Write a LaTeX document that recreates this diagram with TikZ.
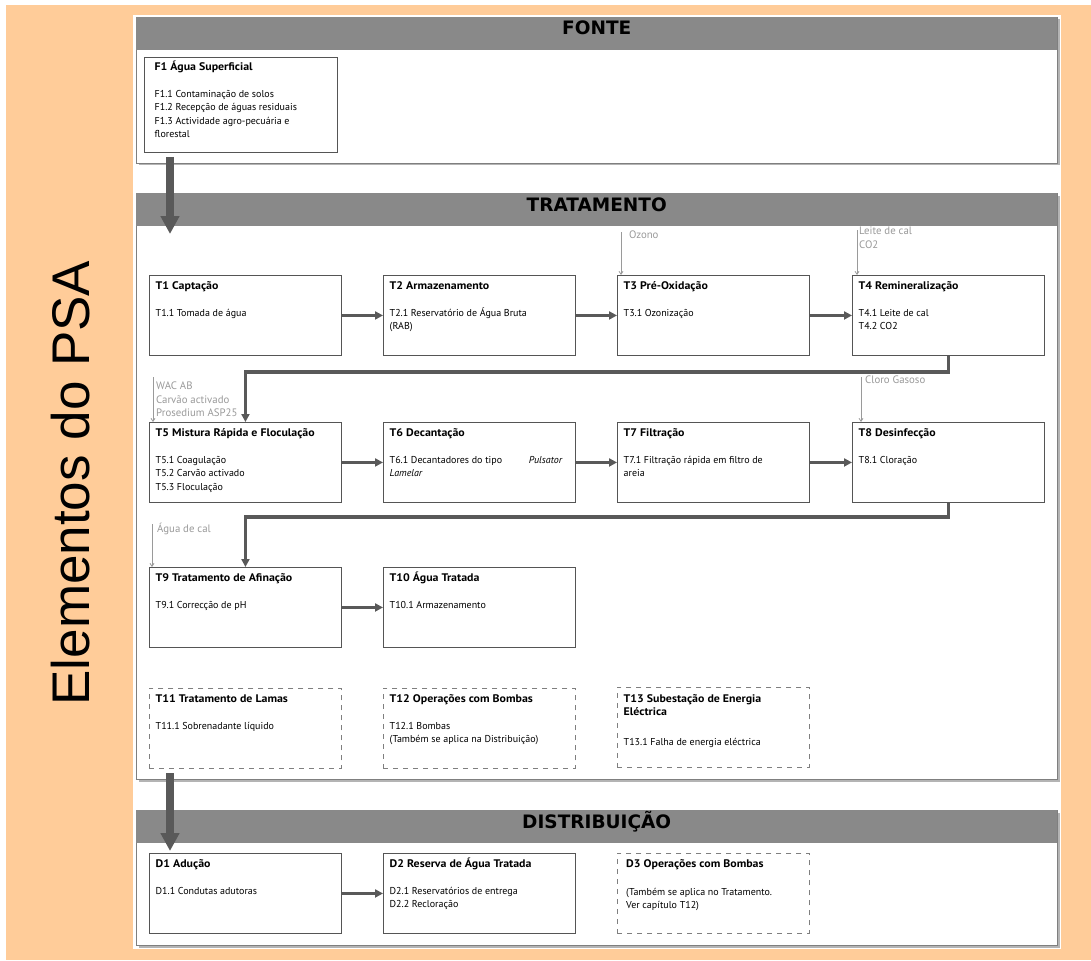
\documentclass[tikz,border=0pt]{standalone}
\usepackage{fontspec}
\setmainfont{PT Sans}
\newfontfamily\psafont{Liberation Sans}
\newfontfamily\hdrfont{DejaVu Sans}
\usetikzlibrary{arrows.meta,calc,shadows}
\definecolor{orangebg}{HTML}{FFCC99}
\definecolor{hdrgray}{HTML}{898989}
\definecolor{framegray}{HTML}{7F7F7F}
\definecolor{shadowgray}{HTML}{B4B4B4}
\definecolor{boxgray}{HTML}{555555}
\definecolor{arrgray}{HTML}{595959}
\definecolor{feedgray}{HTML}{9A9A9A}
\tikzset{
  secbox/.style={draw=framegray, line width=1, fill=white, anchor=north west, inner sep=0, minimum width=921,
    drop shadow={shadow xshift=2pt, shadow yshift=-2pt, fill=shadowgray, opacity=1}},
  sechead/.style={fill=hdrgray, anchor=north west, inner sep=0, minimum width=921, minimum height=33},
  sectext/.style={anchor=base, font=\hdrfont\bfseries\fontsize{18.5}{20}\selectfont, inner sep=0},
  pbox/.style={draw=boxgray, line width=0.9, fill=white, anchor=north west, inner sep=0, minimum width=192, minimum height=80},
  dbox/.style={draw=framegray, line width=0.8, dash pattern=on 5pt off 5pt, anchor=north west, inner sep=0, minimum width=192, minimum height=80},
  ptext/.style={anchor=north west, align=left, inner sep=0, font=\fontsize{10}{13.5}\selectfont},
  flow/.style={draw=arrgray, line width=3.5, -{Triangle[length=8pt,width=8pt]}},
  bigflow/.style={draw=arrgray, line width=8.5, -{Triangle[length=18pt,width=18pt]}},
  feed/.style={draw=feedgray, line width=0.8, -{Straight Barb[length=3pt,width=4pt]}},
  feedtext/.style={anchor=north west, align=left, inner sep=0, text=feedgray, font=\fontsize{10.8}{13.5}\selectfont},
}
\newcommand\ttl[1]{\scalebox{1.08}[1]{\fontsize{11}{13.5}\selectfont\bfseries #1}}
\newcommand\procnode[6]{%
  \node[#4] (#1) at (#2,#3) {};
  \node[ptext] (#1t) at ($(#1.north west)+(6.5,4.5)$) {\strut\ttl{#5}\\[13.5pt]#6};
}
\begin{document}
\begin{tikzpicture}[x=1pt,y=-1pt]
\useasboundingbox (0,0) rectangle (1091,960);
\fill[orangebg] (6,5) rectangle (1091,960);
\fill[white] (133,15) rectangle (1061,949);
\node[rotate=90, font=\psafont\fontsize{53}{60}\selectfont, inner sep=0] (psa) at (71,483) {Elementos do PSA};

% FONTE
\node[secbox, minimum height=146] (fonte) at (136,17) {};
\node[sechead] (fonteh) at (fonte.north west) {};
\node[sectext] (fontet) at ($(fonteh.north)+(0,18)$) {FONTE};
\node[pbox, minimum width=193, minimum height=95] (F1) at (144,57) {};
\node[ptext] (F1t) at ($(F1.north west)+(10.5,3.5)$) {\strut\ttl{F1 Água Superficial}\\[13.5pt]F1.1 Contaminação de solos\\F1.2 Recepção de águas residuais\\F1.3 Actividade agro-pecuária e\\florestal};

% TRATAMENTO
\node[secbox, minimum height=586] (trat) at (136,193) {};
\node[sechead] (trath) at (trat.north west) {};
\node[sectext] (tratt) at ($(trath.north)+(0,18)$) {TRATAMENTO};

\procnode{T1}{149}{275}{pbox}{T1 Captação}{T1.1 Tomada de água}
\procnode{T2}{383}{275}{pbox}{T2 Armazenamento}{T2.1 Reservatório de Água Bruta\\(RAB)}
\procnode{T3}{617}{275}{pbox}{T3 Pré-Oxidação}{T3.1 Ozonização}
\procnode{T4}{852}{275}{pbox}{T4 Remineralização}{T4.1 Leite de cal\\T4.2 CO2}

\procnode{T5}{149}{422}{pbox}{T5 Mistura Rápida e Floculação}{T5.1 Coagulação\\T5.2 Carvão activado\\T5.3 Floculação}
\procnode{T6}{383}{422}{pbox}{T6 Decantação}{\makebox[173pt][l]{T6.1 Decantadores do tipo\hfill\textit{Pulsator}}\\\textit{Lamelar}}
\procnode{T7}{617}{422}{pbox}{T7 Filtração}{T7.1 Filtração rápida em filtro de\\areia}
\procnode{T8}{852}{422}{pbox}{T8 Desinfecção}{T8.1 Cloração}

\procnode{T9}{149}{567}{pbox}{T9 Tratamento de Afinação}{T9.1 Correcção de pH}
\procnode{T10}{383}{567}{pbox}{T10 Água Tratada}{T10.1 Armazenamento}

\procnode{T11}{149}{688}{dbox}{T11 Tratamento de Lamas}{T11.1 Sobrenadante líquido}
\procnode{T12}{383}{688}{dbox}{T12 Operações com Bombas}{T12.1 Bombas\\(Também se aplica na Distribuição)}
\node[dbox] (T13) at (617,687) {};
\node[ptext] (T13t) at ($(T13.north west)+(6.5,5.5)$) {\strut\ttl{T13 Subestação de Energia}\\\ttl{Eléctrica}\\[16pt]T13.1 Falha de energia eléctrica};

% DISTRIBUICAO
\node[secbox, minimum height=135] (dist) at (136,810) {};
\node[sechead] (disth) at (dist.north west) {};
\node[sectext] (distt) at ($(disth.north)+(0,18)$) {DISTRIBUIÇÃO};
\procnode{D1}{149}{853}{pbox}{D1 Adução}{D1.1 Condutas adutoras}
\procnode{D2}{383}{853}{pbox}{D2 Reserva de Água Tratada}{D2.1 Reservatórios de entrega\\D2.2 Recloração}
\node[dbox] (D3) at (617,853) {};
\node[ptext] (D3t) at ($(D3.north west)+(9,4.5)$) {\strut\ttl{D3 Operações com Bombas}\\[14.5pt](Também se aplica no Tratamento.\\Ver capítulo T12)};

% flows
\draw[flow] (T1.east) -- (T2.west);
\draw[flow] (T2.east) -- (T3.west);
\draw[flow] (T3.east) -- (T4.west);
\draw[flow] (T4.south) -- ++(0,16) -| (T5.north);
\draw[flow] (T5.east) -- (T6.west);
\draw[flow] (T6.east) -- (T7.west);
\draw[flow] (T7.east) -- (T8.west);
\draw[flow] (T8.south) -- ++(0,14) -| (T9.north);
\draw[flow] (T9.east) -- (T10.west);
\draw[flow] (D1.east) -- (D2.west);

% big arrows
\coordinate (b1s) at (170,157);
\coordinate (b1e) at (170,234);
\coordinate (b2s) at (170,773);
\coordinate (b2e) at (170,851);
\draw[bigflow] (b1s) -- (b1e);
\draw[bigflow] (b2s) -- (b2e);

% feeds
\coordinate (fo) at (621,232);
\draw[feed] (fo) -- (fo |- T3.north);
\node[feedtext] (fot) at (629,231) {Ozono};
\coordinate (fl) at (857,230);
\draw[feed] (fl) -- (fl |- T4.north);
\node[feedtext] (flt) at (859,227) {Leite de cal\\CO2};
\coordinate (fc) at (861,377);
\draw[feed] (fc) -- (fc |- T8.north);
\node[feedtext] (fct) at (865,376) {Cloro Gasoso};
\coordinate (fw) at (153,377);
\draw[feed] (fw) -- (fw |- T5.north);
\node[feedtext] (fwt) at (156,382) {WAC AB\\Carvão activado\\Prosedium ASP25};
\coordinate (fa) at (152,524);
\draw[feed] (fa) -- (fa |- T9.north);
\node[feedtext] (fat) at (157,523) {Água de cal};
\end{tikzpicture}
\end{document}
